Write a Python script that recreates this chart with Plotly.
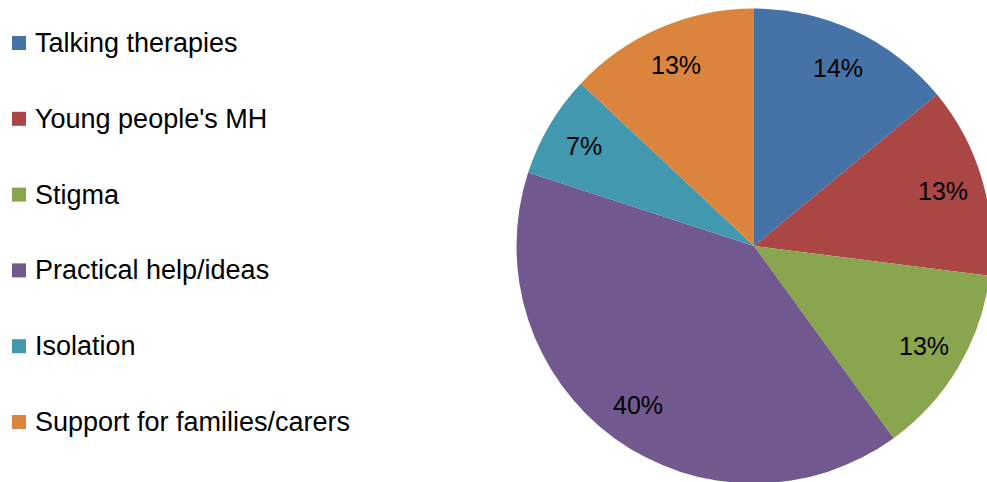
import math
import plotly.graph_objects as go

# Survey topics and their share of responses (%)
categories = [
    "Talking therapies",
    "Young people's MH",
    "Stigma",
    "Practical help/ideas",
    "Isolation",
    "Support for families/carers",
]
shares = [14, 13, 13, 40, 7, 13]
slice_colors = ["#4572A7", "#AA4643", "#89A54E", "#71588F", "#4198AF", "#DB843D"]

FONT = "Liberation Sans, Arial, sans-serif"

# Canvas in pixels; the pie slightly overflows the visible window on the right/bottom
W, H = 1000, 490
CX, CY, R = 754.0, 246.0, 237.5


def px(x):
    return x / W


def py(y):
    return 1 - y / H


fig = go.Figure(
    go.Pie(
        labels=categories,
        values=shares,
        marker=dict(colors=slice_colors, line=dict(width=0)),
        sort=False,
        direction="clockwise",
        rotation=0,
        textinfo="none",
        hoverinfo="label+percent",
        showlegend=False,
        domain=dict(x=[px(CX - R), px(CX + R)], y=[py(CY + R), py(CY - R)]),
    )
)

annotations = []
shapes = []

# Percentage labels placed inside each slice, at the slice's mid-angle
total = sum(shares)
cum = 0.0
label_r = 0.83 * R
for v in shares:
    mid = (cum + v / 2) / total * 2 * math.pi
    cum += v
    x = CX + label_r * math.sin(mid)
    y = CY - label_r * math.cos(mid)
    annotations.append(
        dict(
            x=px(x), y=py(y), xref="paper", yref="paper",
            text=f"{round(v / total * 100)}%", showarrow=False,
            xanchor="center", yanchor="middle",
            font=dict(family=FONT, size=25, color="#000000"),
        )
    )

# Legend on the left: colour square + label, evenly spaced
step = 75.8
for i, (name, col) in enumerate(zip(categories, slice_colors)):
    yc = 43 + i * step
    shapes.append(
        dict(
            type="rect", xref="paper", yref="paper",
            x0=px(12), x1=px(26), y0=py(yc + 7), y1=py(yc - 7),
            fillcolor=col, line=dict(width=0),
        )
    )
    annotations.append(
        dict(
            x=px(33), y=py(yc), xref="paper", yref="paper",
            text=name, showarrow=False,
            xanchor="left", yanchor="middle",
            font=dict(family=FONT, size=27, color="#000000"),
        )
    )

fig.update_layout(
    width=W,
    height=H,
    margin=dict(l=0, r=0, t=0, b=0),
    paper_bgcolor="#FFFFFF",
    plot_bgcolor="#FFFFFF",
    annotations=annotations,
    shapes=shapes,
    font=dict(family=FONT),
)

fig.write_html(
    "out.html",
    post_script="document.documentElement.style.overflow='hidden';"
    "document.body.style.overflow='hidden';document.body.style.margin='0';",
)
